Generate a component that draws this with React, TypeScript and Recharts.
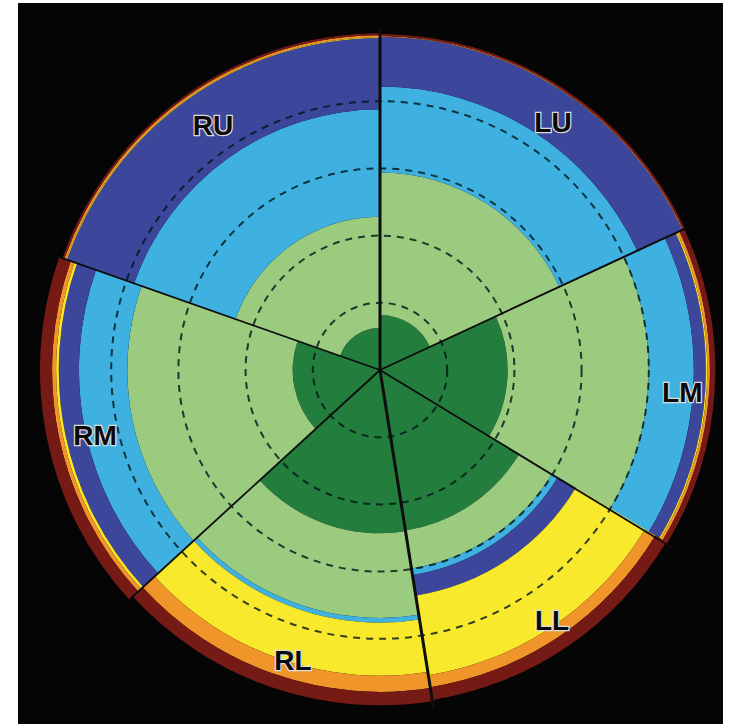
import React from "react";
import {
  RadialBarChart,
  RadialBar,
  PolarAngleAxis,
  PolarRadiusAxis,
  PolarGrid,
} from "recharts";

const W = 746;
const H = 724;
const CX = 380;
const CY = 370;
const UNIT = 67.2; // px per radius unit
const R_MAX = 5.1;

// sectors, angles in degrees counter-clockwise from east
const sectors = ["LM", "LU", "RU", "RM", "RL", "LL"];
const sectorStart = [-31.3, 24.9, 90, 160.6, 222.5, 279];
const sectorEnd = [24.9, 90, 160.6, 222.5, 279, 328.7];

// band thickness per sector (radius units), inner to outer
const darkGreen = [1.9, 0.82, 0.63, 1.3, 2.43, 2.42];
const lightGreen = [2.1, 2.12, 1.65, 2.46, 1.26, 0.57];
const lightBlue = [0.67, 1.28, 1.6, 0.72, 0.07, 0.1];
const darkBlue = [0.18, 0.74, 1.06, 0.3, 0, 0.31];
const yellow = [0.02, 0, 0.01, 0.04, 0.79, 1.2];
const orange = [0.04, 0.01, 0.03, 0.06, 0.24, 0.18];
const darkRed = [0.08, 0.03, 0.03, 0.18, 0.2, 0.19];

const gridTicks = [1, 2, 3, 4];

const bands = [
  { key: "darkGreen", values: darkGreen, color: "#237d3c" },
  { key: "lightGreen", values: lightGreen, color: "#9acb7e" },
  { key: "lightBlue", values: lightBlue, color: "#3fb1e0" },
  { key: "darkBlue", values: darkBlue, color: "#3c479c" },
  { key: "yellow", values: yellow, color: "#f8e92c" },
  { key: "orange", values: orange, color: "#ef952a" },
  { key: "darkRed", values: darkRed, color: "#761a15" },
];

const lineWidths = [1.8, 1.8, 3, 1.8, 1.8, 3];
// label placement (angle deg, radius in units), same order as sectors
const labelAngle = [-4.2, 55.1, 124.3, 192.8, 253.3, 304.5];
const labelRadius = [4.51, 4.5, 4.41, 4.35, 4.51, 4.52];

const chartStyle: React.CSSProperties = { position: "absolute", left: 0, top: 0 };

const renderLabel = (props: any) => {
  const i = sectors.indexOf(props.payload?.value);
  if (i < 0) return <g />;
  const a = (labelAngle[i] * Math.PI) / 180;
  const x = CX + labelRadius[i] * UNIT * Math.cos(a);
  const y = CY - labelRadius[i] * UNIT * Math.sin(a);
  return (
    <text
      x={x}
      y={y}
      dy="0.36em"
      textAnchor="middle"
      fontFamily="'Liberation Sans', Arial, sans-serif"
      fontWeight="bold"
      fontSize={28}
      fill="#0a0a0a"
      stroke="#dcdcdc"
      strokeWidth={2.5}
      paintOrder="stroke"
    >
      {sectors[i]}
    </text>
  );
};

function SectorChart({ i }: { i: number }) {
  const row: any = { name: sectors[i] };
  bands.forEach((b) => (row[b.key] = b.values[i]));
  const width = sectorEnd[i] - sectorStart[i];
  // the single category band is laid out just before startAngle,
  // so the range is shifted by one sector width
  return (
    <RadialBarChart
      style={chartStyle}
      width={W}
      height={H}
      data={[row]}
      cx={CX}
      cy={CY}
      innerRadius={0}
      outerRadius={R_MAX * UNIT}
      startAngle={sectorEnd[i]}
      endAngle={sectorEnd[i] + width}
      layout="centric"
      barCategoryGap={0}
      barGap={0}
      margin={{ top: 0, right: 0, bottom: 0, left: 0 }}
    >
      <PolarAngleAxis type="category" dataKey="name" axisLine={false} tickLine={false} tick={false} />
      <PolarRadiusAxis
        type="number"
        domain={[0, R_MAX]}
        allowDataOverflow
        tick={false}
        axisLine={false}
      />
      {bands.map((b) => (
        <RadialBar
          key={b.key}
          dataKey={b.key}
          stackId="s"
          fill={b.color}
          isAnimationActive={false}
        />
      ))}
    </RadialBarChart>
  );
}

export default function App() {
  const labelRows = sectors.map((s) => ({ name: s, v: 0 }));
  return (
    <div
      style={{
        position: "absolute",
        left: 0,
        top: 0,
        width: W,
        height: H,
        background: "#fff",
        overflow: "hidden",
      }}
    >
      <div
        style={{
          position: "absolute",
          left: 18,
          top: 3,
          width: 705,
          height: 721,
          background: "#050505",
        }}
      />
      {sectors.map((s, i) => (
        <SectorChart key={s} i={i} />
      ))}
      {/* dashed rings, sector boundaries and labels on top */}
      <RadialBarChart
        style={chartStyle}
        width={W}
        height={H}
        data={labelRows}
        cx={CX}
        cy={CY}
        innerRadius={0}
        outerRadius={R_MAX * UNIT}
        startAngle={0}
        endAngle={360}
        layout="centric"
        margin={{ top: 0, right: 0, bottom: 0, left: 0 }}
      >
        <PolarRadiusAxis
          type="number"
          domain={[0, R_MAX]}
          allowDataOverflow
          ticks={gridTicks}
          tick={false}
          axisLine={false}
        />
        <PolarGrid
          gridType="circle"
          radialLines={false}
          stroke="rgba(0,20,25,0.8)"
          strokeWidth={2}
          strokeDasharray="7 6"
        />
        {sectorStart.map((a, k) => (
          <PolarGrid
            key={k}
            gridType="circle"
            polarAngles={[a]}
            polarRadius={[]}
            stroke="#0d0d0d"
            strokeWidth={lineWidths[k]}
          />
        ))}
        <RadialBar dataKey="v" fill="transparent" isAnimationActive={false} />
        <PolarAngleAxis
          type="category"
          dataKey="name"
          axisLine={false}
          tickLine={false}
          tick={renderLabel}
        />
      </RadialBarChart>
    </div>
  );
}
